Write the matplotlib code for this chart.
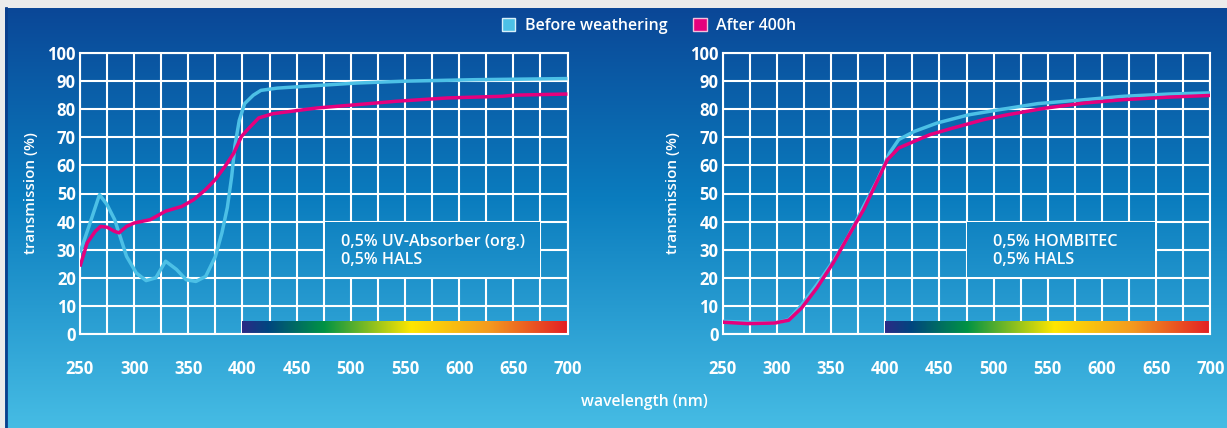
import numpy as np
import matplotlib
matplotlib.use("Agg")
from matplotlib import pyplot as plt
from matplotlib.patches import Patch
from matplotlib.colors import LinearSegmentedColormap

plt.rcParams['font.family'] = ['Open Sans', 'DejaVu Sans']

# left panel: organic UV absorber
wl_org_before = [250, 258, 268, 275, 282, 293, 302, 311, 320, 329, 339, 348, 357, 366, 375,
                 381, 386, 390, 393, 397, 402, 410, 417, 432, 468, 505, 552, 614, 700]
tr_org_before = [29, 38, 49.6, 46, 40.7, 27.6, 21.7, 19, 20, 25.9, 23, 19.3, 18.7, 20.5, 27.6,
                 36, 45, 56, 67, 76, 82, 85, 86.7, 87.5, 88.4, 89.3, 90, 90.5, 90.9]
wl_org_after = [250, 256.6, 264, 269, 275, 282, 286, 293, 300, 315, 329, 344, 355, 366, 375,
                384, 392, 399, 406, 415, 428, 450, 468, 505, 541, 589, 640, 651, 700]
tr_org_after = [24, 32.4, 36.5, 38.3, 38, 36.5, 36, 38.3, 39.5, 40.7, 43.7, 45.4, 47.8, 51.4, 55,
                59.7, 64.4, 70.3, 73.3, 76.9, 78.4, 79.5, 80.4, 81.6, 82.8, 84, 84.6, 85, 85.4]

# right panel: HOMBITEC
wl_hom_before = [250, 273, 298, 311, 323, 337, 352, 366, 380, 393, 404, 412.5, 427, 448, 477,
                 505, 541, 584, 620, 662, 700]
tr_hom_before = [4.5, 4.2, 3.9, 5.1, 10.4, 17.6, 25.9, 34.8, 45.4, 54.9, 64.4, 69.2, 72.1, 75.1, 78,
                 79.8, 82, 83.4, 84.6, 85.4, 85.8]
wl_hom_after = [250, 273, 298, 311, 323, 337, 352, 366, 380, 391, 402, 412.5, 427, 441, 462.5,
                491, 512.5, 548, 584, 620, 662, 700]
tr_hom_after = [4.2, 3.7, 3.9, 4.9, 9.3, 16.4, 25.3, 34.8, 44.2, 53.1, 62, 66.2, 68.6, 70.9, 73.3,
                76.3, 78, 80.4, 82.2, 83.4, 84.3, 84.9]

xticks = [250, 300, 350, 400, 450, 500, 550, 600, 650, 700]
yticks = [0, 10, 20, 30, 40, 50, 60, 70, 80, 90, 100]
box_text = ["0,5% UV-Absorber (org.)\n0,5% HALS", "0,5% HOMBITEC\n0,5% HALS"]

c_before = '#4cc0e6'
c_after = '#e5007d'

fig = plt.figure(figsize=(12.27, 4.28), dpi=100, facecolor='#ebebeb')

# gradient background
bg_cmap = LinearSegmentedColormap.from_list('bg', [(0, '#0b4797'), (0.45, '#0a7cbe'), (1, '#46bce4')])
bg_top = 1 - 8 / 428
bg = fig.add_axes([5 / 1227, 0, 1 - 5 / 1227, bg_top])
bg.imshow(np.linspace(0, 1, 256).reshape(-1, 1), aspect='auto', cmap=bg_cmap,
          extent=[0, 1, 0, 1], origin='upper')
bg.axis('off')
fig.add_artist(plt.Line2D([6 / 1227, 6 / 1227], [0, bg_top], color='#0a3f8c', lw=2,
                          transform=fig.transFigure))

spec_cmap = LinearSegmentedColormap.from_list('spec', [(0, '#2b2a86'), (0.08, '#00467f'),
                                                       (0.25, '#009245'), (0.52, '#ffe600'),
                                                       (0.76, '#f39a1f'), (1, '#e31e24')])

panels = [
    ([80 / 1227, 94 / 428, 487.5 / 1227, 281 / 428], wl_org_before, tr_org_before, wl_org_after, tr_org_after, 675, 491, box_text[0]),
    ([722.6 / 1227, 94 / 428, 487.8 / 1227, 281 / 428], wl_hom_before, tr_hom_before, wl_hom_after, tr_hom_after, 650, 499, box_text[1]),
]

for rect, xb, yb, xa, ya, box_end, tx, txt in panels:
    ax = fig.add_axes(rect)
    ax.set_facecolor('none')
    # text box hides the grid: fill it with the matching slice of the background
    fy = rect[1] + rect[3] * np.linspace(40, 20, 64) / 100
    tcol = bg_cmap((bg_top - fy) / bg_top)
    ax.imshow(tcol.reshape(-1, 1, 4), aspect='auto', origin='upper',
              extent=[475 + 0.8, box_end - 0.8, 20.3, 39.7], zorder=2)
    ax.imshow(np.linspace(0, 1, 256).reshape(1, -1), aspect='auto', cmap=spec_cmap,
              extent=[400, 700, 0.4, 4.4], zorder=2)
    ax.plot(xb, yb, color=c_before, lw=2.5, zorder=3, solid_capstyle='butt')
    ax.plot(xa, ya, color=c_after, lw=2.5, zorder=4, solid_capstyle='butt')
    ax.text(tx, 29.5, txt, color='white', fontsize=11.6, fontweight='semibold', va='center',
            ha='left', linespacing=1.22, zorder=5)
    ax.set_xlim(250, 700)
    ax.set_ylim(0, 100)
    ax.set_xticks(xticks)
    ax.set_xticks(np.arange(275, 700, 50), minor=True)
    ax.set_yticks(yticks)
    ax.grid(True, which='both', color='white', lw=1.5, zorder=1)
    ax.set_axisbelow(True)
    for s in ax.spines.values():
        s.set_color('white')
        s.set_linewidth(1.5)
    ax.tick_params(which='both', length=0, colors='white')
    ax.tick_params(axis='x', pad=19)
    ax.tick_params(axis='y', pad=3)
    for lab in ax.get_xticklabels() + ax.get_yticklabels():
        lab.set_fontweight('bold')
        lab.set_fontsize(12)
    ax.set_ylabel('transmission (%)', color='white', fontsize=11, fontweight='semibold', labelpad=7)

fig.text(644 / 1227, 1 - 402 / 428, 'wavelength (nm)', color='white', fontsize=11.3,
         fontweight='semibold', ha='center', va='center')

handles = [Patch(facecolor=c_before, edgecolor='#d8f0fa', lw=1), Patch(facecolor=c_after, edgecolor='#f4c0dc', lw=1)]
leg = fig.legend(handles, ['Before weathering', 'After 400h'], loc='center', ncol=2,
                 bbox_to_anchor=(649 / 1227, 1 - 26 / 428), frameon=False, handlelength=0.85,
                 handleheight=0.85, handletextpad=0.6, columnspacing=1.6,
                 prop={'size': 11.5, 'weight': 'semibold'})
for t in leg.get_texts():
    t.set_color('white')

fig.savefig('out.png', dpi=100, facecolor=fig.get_facecolor())
